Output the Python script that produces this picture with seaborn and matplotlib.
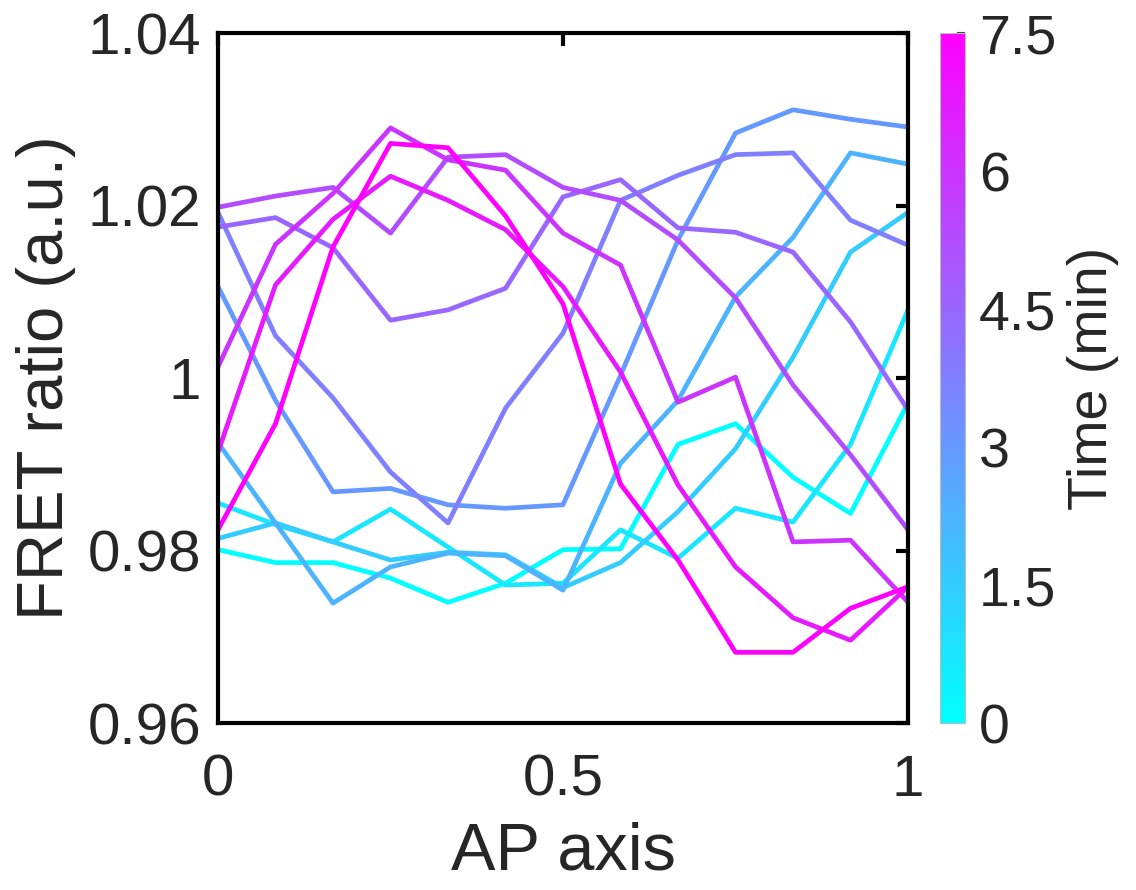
import numpy as np
import pandas as pd
import seaborn as sns
import matplotlib
matplotlib.use("Agg")
import matplotlib.pyplot as plt
from matplotlib.cm import ScalarMappable
from matplotlib.colors import Normalize

# positions along the AP axis (13 samples)
ap = [0, 1/12, 2/12, 3/12, 4/12, 5/12, 6/12, 7/12, 8/12, 9/12, 10/12, 11/12, 1]

# time of each profile (min)
times = [0, 0.75, 1.5, 2.25, 3, 3.75, 4.5, 5.25, 6, 6.75, 7.5]

# FRET ratio profiles, one per time point
fret_t0 = [0.9801, 0.9786, 0.9786, 0.9768, 0.9740, 0.9762, 0.9801, 0.9802, 0.9923, 0.9947, 0.9885, 0.9843, 0.9971]
fret_t075 = [0.9855, 0.9830, 0.9810, 0.9848, 0.9804, 0.9760, 0.9762, 0.9824, 0.9791, 0.9849, 0.9833, 0.9923, 1.0079]
fret_t15 = [0.9814, 0.9832, 0.9810, 0.9789, 0.9798, 0.9795, 0.9757, 0.9786, 0.9845, 0.9918, 1.0024, 1.0146, 1.0192]
fret_t225 = [0.9925, 0.9832, 0.9739, 0.9781, 0.9797, 0.9794, 0.9754, 0.9901, 0.9974, 1.0094, 1.0163, 1.0261, 1.0248]
fret_t3 = [1.0106, 0.9974, 0.9868, 0.9872, 0.9853, 0.9849, 0.9853, 1.0003, 1.0160, 1.0284, 1.0311, 1.0300, 1.0291]
fret_t375 = [1.0192, 1.0049, 0.9977, 0.9891, 0.9832, 0.9965, 1.0052, 1.0206, 1.0235, 1.0259, 1.0261, 1.0183, 1.0154]
fret_t45 = [1.0175, 1.0186, 1.0151, 1.0067, 1.0079, 1.0104, 1.0210, 1.0230, 1.0174, 1.0169, 1.0146, 1.0065, 0.9963]
fret_t525 = [1.0198, 1.0211, 1.0221, 1.0168, 1.0256, 1.0259, 1.0221, 1.0206, 1.0160, 1.0093, 0.9992, 0.9911, 0.9824]
fret_t6 = [1.0013, 1.0155, 1.0214, 1.0290, 1.0253, 1.0241, 1.0168, 1.0131, 0.9972, 1.0001, 0.9810, 0.9812, 0.9740]
fret_t675 = [0.9914, 1.0108, 1.0184, 1.0234, 1.0206, 1.0172, 1.0106, 1.0007, 0.9876, 0.9781, 0.9722, 0.9696, 0.9758]
fret_t75 = [0.9824, 0.9947, 1.0152, 1.0272, 1.0267, 1.0188, 1.0086, 0.9877, 0.9789, 0.9682, 0.9682, 0.9733, 0.9758]

profiles = [fret_t0, fret_t075, fret_t15, fret_t225, fret_t3, fret_t375,
            fret_t45, fret_t525, fret_t6, fret_t675, fret_t75]

yticks = [0.96, 0.98, 1.0, 1.02, 1.04]
ytick_labels = ["0.96", "0.98", "1", "1.02", "1.04"]
xticks = [0, 0.5, 1]
xtick_labels = ["0", "0.5", "1"]
cbar_ticks = [0, 1.5, 3, 4.5, 6, 7.5]
cbar_labels = ["0", "1.5", "3", "4.5", "6", "7.5"]

rows = []
for t, prof in zip(times, profiles):
    for x, v in zip(ap, prof):
        rows.append({"ap": x, "fret": v, "time": t})
df = pd.DataFrame(rows)

sns.set_style("white")
plt.rcParams["font.family"] = ["Liberation Sans", "DejaVu Sans"]
text_color = "#262626"

fig = plt.figure(figsize=(11.36, 8.9), dpi=100)
ax = fig.add_axes([0.1919, 0.1876, 0.6074, 0.7753])
cax = fig.add_axes([0.8275, 0.1876, 0.022, 0.7753])

norm = Normalize(0, 7.5)
sns.lineplot(data=df, x="ap", y="fret", hue="time", units="time", estimator=None,
             palette="cool", hue_norm=norm, linewidth=3.4, legend=False, ax=ax)

ax.set_xlim(0, 1)
ax.set_ylim(0.96, 1.04)
ax.set_xticks(xticks)
ax.set_xticklabels(xtick_labels)
ax.set_yticks(yticks)
ax.set_yticklabels(ytick_labels)
ax.tick_params(direction="in", length=9, width=3, labelsize=42, colors="black",
               labelcolor=text_color, top=True, right=True)
ax.tick_params(axis="x", pad=22)
ax.tick_params(axis="y", pad=12)
for s in ax.spines.values():
    s.set_visible(True)
    s.set_linewidth(3)
    s.set_color("black")
ax.set_xlabel("AP axis", fontsize=48, color=text_color, labelpad=10)
ax.set_ylabel("FRET ratio (a.u.)", fontsize=47, color=text_color, labelpad=8)

sm = ScalarMappable(norm=norm, cmap="cool")
cb = fig.colorbar(sm, cax=cax)
cb.set_ticks(cbar_ticks)
cb.set_ticklabels(cbar_labels)
cb.outline.set_linewidth(0.8)
cb.outline.set_edgecolor("#bbbbbb")
cax.tick_params(direction="in", length=6, width=1.5, labelsize=40,
                labelcolor=text_color, color="#444444", pad=10)
cb.set_label("Time (min)", fontsize=40, color=text_color, labelpad=8)

fig.savefig("out.png", dpi=100, facecolor="white")
